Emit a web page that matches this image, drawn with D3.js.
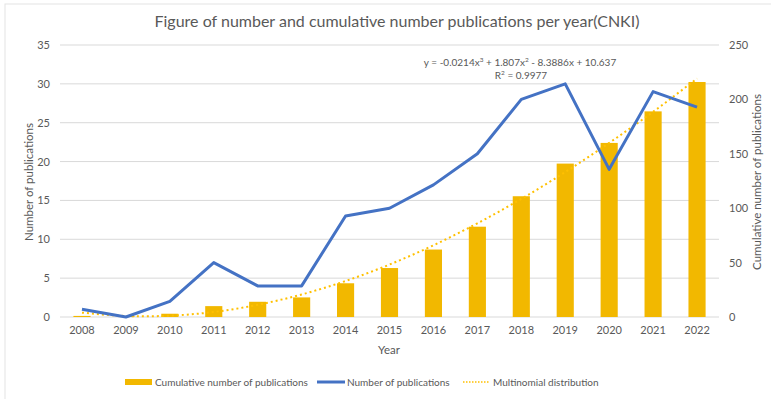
<!DOCTYPE html>
<html>
<head>
<meta charset="utf-8">
<script src="https://cdn.jsdelivr.net/npm/d3@7"></script>
<style>
  body { margin: 0; background: #fff; }
  text { font-family: Lato, "Open Sans", sans-serif; }
</style>
</head>
<body>
<div id="chart"></div>
<script>
// Data
const years = ['2008', '2009', '2010', '2011', '2012', '2013', '2014', '2015',
  '2016', '2017', '2018', '2019', '2020', '2021', '2022']
const publications = [1, 0, 2, 7, 4, 4, 13, 14, 17, 21, 28, 30, 19, 29, 27]
const cumulative = [1, 1, 3, 10, 14, 18, 31, 45, 62, 83, 111, 141, 160, 189, 216]
// trendline values
const trend = [4.0, 0.9, 1.2, 4.6, 11.2, 20.7, 33.1, 48.2, 65.9, 86.1, 108.5, 133.2, 160.0, 188.6, 219.2]
const leftTicks = [0, 5, 10, 15, 20, 25, 30, 35]
const rightTicks = [0, 50, 100, 150, 200, 250]

function draw() {
  const dimensions = { width: 771, height: 399 }
  const plot = { left: 60, right: 719, top: 45, bottom: 317 }

  const svg = d3.select('#chart')
    .append('svg')
    .attr('width', dimensions.width)
    .attr('height', dimensions.height)

  // chart border
  svg.append('rect')
    .attr('x', 5).attr('y', 4)
    .attr('width', 900).attr('height', 600)
    .attr('fill', 'none')
    .attr('stroke', '#e3e3e3')

  // Scales
  const xScale = d3.scaleBand()
    .domain(years)
    .range([plot.left, plot.right])
    .paddingInner(0.61)
    .paddingOuter(0.305)

  const xPoint = d => xScale(d) + xScale.bandwidth() / 2

  const yLeft = d3.scaleLinear()
    .domain([0, 35])
    .range([plot.bottom, plot.top])

  const yRight = d3.scaleLinear()
    .domain([0, 250])
    .range([plot.bottom, plot.top])

  // Gridlines
  svg.append('g')
    .selectAll('line')
    .data(leftTicks)
    .join('line')
    .attr('x1', plot.left)
    .attr('x2', plot.right)
    .attr('y1', d => yLeft(d))
    .attr('y2', d => yLeft(d))
    .attr('stroke', '#d9d9d9')
    .attr('stroke-width', 1)

  // Bars
  svg.append('g')
    .selectAll('rect')
    .data(cumulative)
    .join('rect')
    .attr('x', (d, i) => xScale(years[i]))
    .attr('y', d => yRight(d))
    .attr('width', xScale.bandwidth())
    .attr('height', d => yRight(0) - yRight(d))
    .attr('fill', '#f2b800')

  // Trendline
  const trendLine = d3.line()
    .x((d, i) => xPoint(years[i]))
    .y(d => yRight(d))
    .curve(d3.curveNatural)

  svg.append('path')
    .datum(trend)
    .attr('d', trendLine)
    .attr('fill', 'none')
    .attr('stroke', '#ffc000')
    .attr('stroke-width', 2)
    .attr('stroke-dasharray', '2,3')

  // Publications line
  const pubLine = d3.line()
    .x((d, i) => xPoint(years[i]))
    .y(d => yLeft(d))

  svg.append('path')
    .datum(publications)
    .attr('d', pubLine)
    .attr('fill', 'none')
    .attr('stroke', '#4472c4')
    .attr('stroke-width', 3)
    .attr('stroke-linejoin', 'round')

  // Axes
  const tickColor = '#595959'

  const xAxis = d3.axisBottom(xScale).tickSize(0).tickPadding(9)
  const xAxisGroup = svg.append('g')
    .attr('transform', `translate(0, ${plot.bottom})`)
    .call(xAxis)
  xAxisGroup.select('.domain').remove()

  const yAxisLeft = d3.axisLeft(yLeft).tickValues(leftTicks).tickSize(0).tickPadding(10)
  const leftGroup = svg.append('g')
    .attr('transform', `translate(${plot.left}, 0)`)
    .call(yAxisLeft)
  leftGroup.select('.domain').remove()

  const yAxisRight = d3.axisRight(yRight).tickValues(rightTicks).tickSize(0).tickPadding(10)
  const rightGroup = svg.append('g')
    .attr('transform', `translate(${plot.right}, 0)`)
    .call(yAxisRight)
  rightGroup.select('.domain').remove()

  svg.selectAll('.tick text')
    .attr('fill', tickColor)
    .style('font-size', '11px')
    .style('font-family', 'Lato, sans-serif')

  // Titles
  svg.append('text')
    .attr('x', 397).attr('y', 27)
    .attr('text-anchor', 'middle')
    .attr('fill', tickColor)
    .style('font-size', '16px')
    .text('Figure of number and cumulative number publications per year(CNKI)')

  svg.append('text')
    .attr('x', 389).attr('y', 354)
    .attr('text-anchor', 'middle')
    .attr('fill', tickColor)
    .style('font-size', '11.5px')
    .text('Year')

  svg.append('text')
    .attr('transform', 'translate(33, 182) rotate(-90)')
    .attr('text-anchor', 'middle')
    .attr('fill', tickColor)
    .style('font-size', '11.5px')
    .text('Number of publications')

  svg.append('text')
    .attr('transform', 'translate(761, 182) rotate(-90)')
    .attr('text-anchor', 'middle')
    .attr('fill', tickColor)
    .style('font-size', '11.5px')
    .text('Cumulative number of publications')

  // Trendline equation
  const eq = svg.append('text')
    .attr('x', 520).attr('y', 66)
    .attr('text-anchor', 'middle')
    .attr('fill', tickColor)
    .style('font-size', '10px')
  eq.append('tspan').text('y = -0.0214x')
  eq.append('tspan').attr('dy', -4).style('font-size', '6.5px').text('3')
  eq.append('tspan').attr('dy', 4).text(' + 1.807x')
  eq.append('tspan').attr('dy', -4).style('font-size', '6.5px').text('2')
  eq.append('tspan').attr('dy', 4).text(' - 8.3886x + 10.637')

  const r2 = svg.append('text')
    .attr('x', 521).attr('y', 79)
    .attr('text-anchor', 'middle')
    .attr('fill', tickColor)
    .style('font-size', '10px')
  r2.append('tspan').text('R')
  r2.append('tspan').attr('dy', -4).style('font-size', '6.5px').text('2')
  r2.append('tspan').attr('dy', 4).text(' = 0.9977')

  // Legend
  const legend = svg.append('g')
    .style('font-size', '10px')
    .attr('fill', tickColor)
  const ly = 382

  legend.append('rect')
    .attr('x', 125).attr('y', ly - 3)
    .attr('width', 27).attr('height', 6)
    .attr('fill', '#f2b800')
  legend.append('text')
    .attr('x', 155).attr('y', ly + 4)
    .text('Cumulative number of publications')

  legend.append('line')
    .attr('x1', 317).attr('x2', 345)
    .attr('y1', ly).attr('y2', ly)
    .attr('stroke', '#4472c4')
    .attr('stroke-width', 3)
  legend.append('text')
    .attr('x', 347).attr('y', ly + 4)
    .text('Number of publications')

  legend.append('line')
    .attr('x1', 463).attr('x2', 490)
    .attr('y1', ly).attr('y2', ly)
    .attr('stroke', '#ffc000')
    .attr('stroke-width', 1.5)
    .attr('stroke-dasharray', '1.5,1.5')
  legend.append('text')
    .attr('x', 493).attr('y', ly + 4)
    .text('Multinomial distribution')
}

draw()
</script>
</body>
</html>
